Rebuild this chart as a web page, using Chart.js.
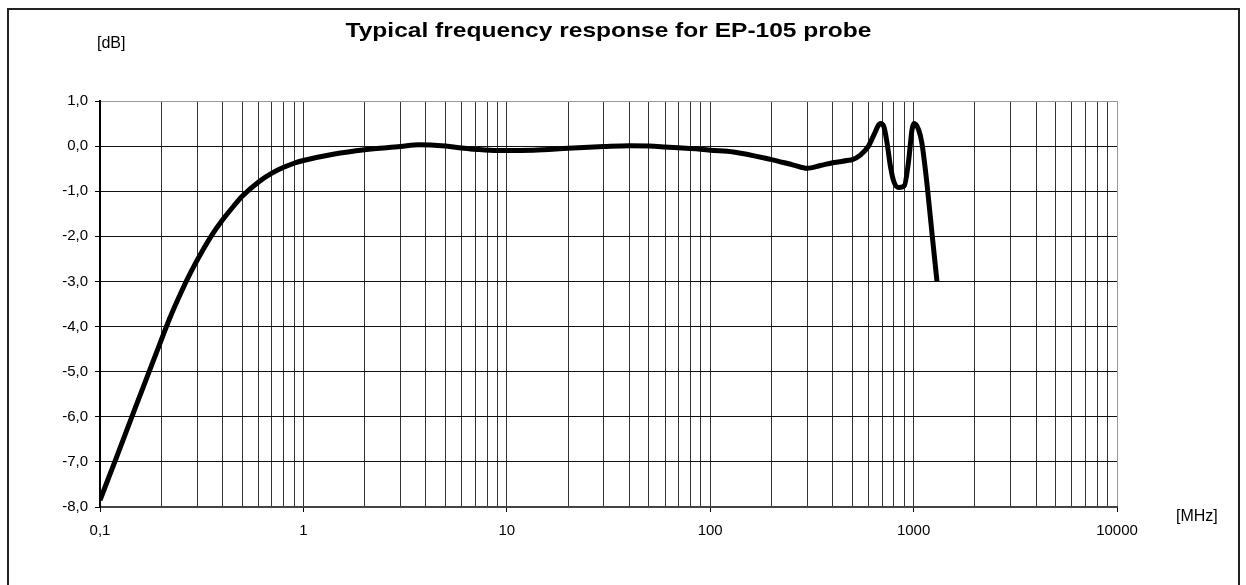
<!DOCTYPE html>
<html>
<head>
<meta charset="utf-8">
<title>EP-105 frequency response</title>
<script src="https://cdn.jsdelivr.net/npm/chart.js@4/dist/chart.umd.min.js"></script>
<style>
    html, body { margin: 0; padding: 0; background: #fff; }
    #wrap { width: 1246px; height: 585px; }
</style>
</head>
<body>
<div id="wrap"><canvas id="chart" width="1246" height="585"></canvas></div>
<script>
// Frequency points [MHz] and response [dB]
const freqMHz = [0.1, 0.12, 0.15, 0.18, 0.2, 0.22, 0.25, 0.28, 0.32, 0.36, 0.4, 0.45, 0.5, 0.6, 0.7, 0.8, 0.9, 1.0,
    1.4, 2, 3, 3.7, 5, 6, 7, 9, 10, 13.5, 20, 30, 40, 50, 60, 90, 100, 130, 200, 257, 300, 348, 400,
    471, 500, 547, 600, 637, 687, 714, 741, 770, 800, 846, 900, 946, 982, 1005, 1059, 1099, 1163, 1232, 1303];
const responseDb = [-7.85, -6.92, -5.77, -4.84, -4.3, -3.82, -3.25, -2.79, -2.31, -1.93, -1.64, -1.35, -1.11, -0.8, -0.6, -0.47, -0.38, -0.32,
    -0.18, -0.08, -0.01, 0.03, 0.0, -0.04, -0.07, -0.1, -0.1, -0.09, -0.05, -0.01, 0.01, 0.0, -0.02, -0.07, -0.09, -0.13, -0.3, -0.42, -0.49, -0.43, -0.37,
    -0.32, -0.3, -0.2, 0.0, 0.24, 0.5, 0.43, 0.06, -0.46, -0.79, -0.92, -0.88, -0.31, 0.36, 0.5, 0.36, 0.06, -0.83, -1.94, -3.0];

// Axis ticks
const xDecades = [0.1, 1, 10, 100, 1000, 10000];
const xMinorSteps = [1, 2, 3, 4, 5, 6, 7, 8, 9];
const yMin = -8, yMax = 1, yStep = 1;

const titleText = 'Typical frequency response for EP-105 probe';
const yUnit = '[dB]';
const xUnit = '[MHz]';

const points = freqMHz.map((f, i) => ({ x: f, y: responseDb[i] }));

// all grid positions: 1..9 of each decade, plus last decade
const xTickValues = [];
for (let d = 0; d < xDecades.length - 1; d++) {
    xMinorSteps.forEach(m => xTickValues.push(+(xDecades[d] * m).toPrecision(6)));
}
xTickValues.push(xDecades[xDecades.length - 1]);

function isDecade(v) {
    return xDecades.some(d => Math.abs(d - v) < 1e-9);
}

function fmt(v) {
    return String(v).replace('.', ',');
}

// frame, title and unit labels
const decorPlugin = {
    id: 'decor',
    beforeDraw(chart) {
        const ctx = chart.ctx;
        ctx.save();
        ctx.fillStyle = '#fff';
        ctx.fillRect(0, 0, chart.width, chart.height);
        ctx.strokeStyle = '#222';
        ctx.lineWidth = 2;
        ctx.strokeRect(8, 9, 1231, 620);
        ctx.restore();
    },
    afterDraw(chart) {
        const ctx = chart.ctx;
        const area = chart.chartArea;
        ctx.save();
        ctx.fillStyle = '#000';
        ctx.font = 'bold 21px "Liberation Sans", Arial, sans-serif';
        ctx.textBaseline = 'alphabetic';
        ctx.textAlign = 'left';
        const w = ctx.measureText(titleText).width;
        const sx = 526 / w;
        const cx = (area.left + area.right) / 2;
        ctx.translate(cx - 263, 37);
        ctx.scale(sx, 1);
        ctx.fillText(titleText, 0, 0);
        ctx.restore();

        ctx.save();
        ctx.fillStyle = '#000';
        ctx.font = '16px "Liberation Sans", Arial, sans-serif';
        ctx.textBaseline = 'alphabetic';
        ctx.textAlign = 'left';
        ctx.fillText(yUnit, 97, 48);
        ctx.fillText(xUnit, 1176, 521);
        ctx.restore();
    }
};

const ctx = document.getElementById('chart').getContext('2d');
new Chart(ctx, {
    type: 'line',
    data: {
        datasets: [{
            data: points,
            borderColor: '#000',
            borderWidth: 5,
            pointRadius: 0,
            fill: false,
            cubicInterpolationMode: 'monotone'
        }]
    },
    options: {
        responsive: false,
        animation: false,
        devicePixelRatio: 1,
        layout: { padding: { top: 101, left: 0, right: 129, bottom: 0 } },
        plugins: {
            legend: { display: false },
            tooltip: { enabled: false },
            title: { display: false }
        },
        scales: {
            x: {
                type: 'logarithmic',
                min: 0.1,
                max: 10000,
                afterBuildTicks: scale => {
                    scale.ticks = xTickValues.map(v => ({ value: v, major: isDecade(v) }));
                },
                afterFit: scale => { scale.height = 78; },
                ticks: {
                    autoSkip: false,
                    maxRotation: 0,
                    padding: 10,
                    color: '#000',
                    font: { family: '"Liberation Sans", Arial, sans-serif', size: 15 },
                    callback: v => isDecade(v) ? fmt(v) : ''
                },
                grid: {
                    color: c => (c.tick && c.tick.value === 10000) ? '#999' : '#333',
                    lineWidth: 1,
                    tickLength: 5,
                    tickColor: c => (c.tick && isDecade(c.tick.value)) ? '#000' : 'rgba(0,0,0,0)'
                },
                border: { display: true, color: '#444', width: 2 }
            },
            y: {
                type: 'linear',
                min: yMin,
                max: yMax,
                afterFit: scale => { scale.width = 100; },
                ticks: {
                    stepSize: yStep,
                    padding: 7,
                    color: '#000',
                    font: { family: '"Liberation Sans", Arial, sans-serif', size: 15 },
                    callback: v => fmt(v.toFixed(1))
                },
                grid: {
                    color: c => (c.tick && c.tick.value === yMax) ? '#999' : '#111',
                    lineWidth: 1,
                    tickLength: 5,
                    tickColor: '#000'
                },
                border: { display: true, color: '#000', width: 2 }
            }
        }
    },
    plugins: [decorPlugin]
});
</script>
</body>
</html>
